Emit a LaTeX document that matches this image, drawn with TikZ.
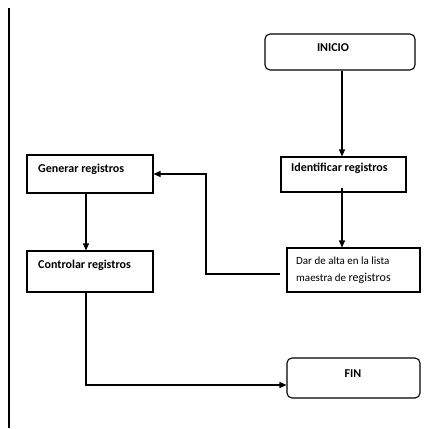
\documentclass[tikz,border=0pt]{standalone}
\usepackage{fontspec}
\setmainfont{Carlito}
\usetikzlibrary{arrows.meta}
\tikzset{
  box/.style={draw, line width=1.1pt, inner sep=0pt},
  roundbox/.style={box, rounded corners=5pt},
  txt/.style={inner sep=0pt, anchor=west, font=\bfseries\fontsize{12}{14}\selectfont},
  smalltxt/.style={inner sep=0pt, anchor=west, font=\fontsize{11}{13}\selectfont},
  conn/.style={line width=1.1pt, -{Triangle[length=7pt,width=6pt]}},
}
\begin{document}
\begin{tikzpicture}[x=1pt,y=-1pt]
\useasboundingbox (0,0) rectangle (433,428);
% left margin rule
\draw[line width=1.4pt] (9,8) -- (9,428);

% boxes
\node[roundbox, minimum width=150pt, minimum height=36pt] (inicio) at (340,52) {};
\node[box, minimum width=125pt, minimum height=35pt] (ident) at (343.5,174.5) {};
\node[box, minimum width=133pt, minimum height=44pt] (alta) at (353.5,270) {};
\node[box, minimum width=126pt, minimum height=38pt] (gen) at (90,174) {};
\node[box, minimum width=126pt, minimum height=41pt] (ctrl) at (90,271.5) {};
\node[roundbox, minimum width=133pt, minimum height=40pt] (fin) at (353.5,378) {};

% labels
\node[txt, anchor=center] (tinicio) at (333,48) {INICIO};
\node[txt] (tident) at (291,168) {Identificar registros};
\node[smalltxt] (talta1) at (296,261) {Dar de alta en la lista};
\node[smalltxt] (talta2) at (296,278) {maestra de {\fontsize{12}{14}\selectfont registros}};
\node[txt] (tgen) at (38,169) {Generar registros};
\node[txt] (tctrl) at (38,265) {Controlar registros};
\node[txt, anchor=center] (tfin) at (353,374) {FIN};

% connectors
\coordinate (c1) at (206,274);
\coordinate (c2) at (206,174);
\coordinate (c3) at (86,385);
\draw[conn] (inicio.south -| 342,0) -- (ident.north -| 342,0);
\draw[conn] (342,188) -- (alta.north -| 342,0);
\draw[conn] ([xshift=-6pt]alta.west |- c1) -- (c1) -- (c2) -- (gen.east |- c2);
\draw[conn] (gen.south -| 86,0) -- (ctrl.north -| 86,0);
\draw[conn] (ctrl.south -| 86,0) -- (c3) -- (fin.west |- c3);
\end{tikzpicture}
\end{document}
